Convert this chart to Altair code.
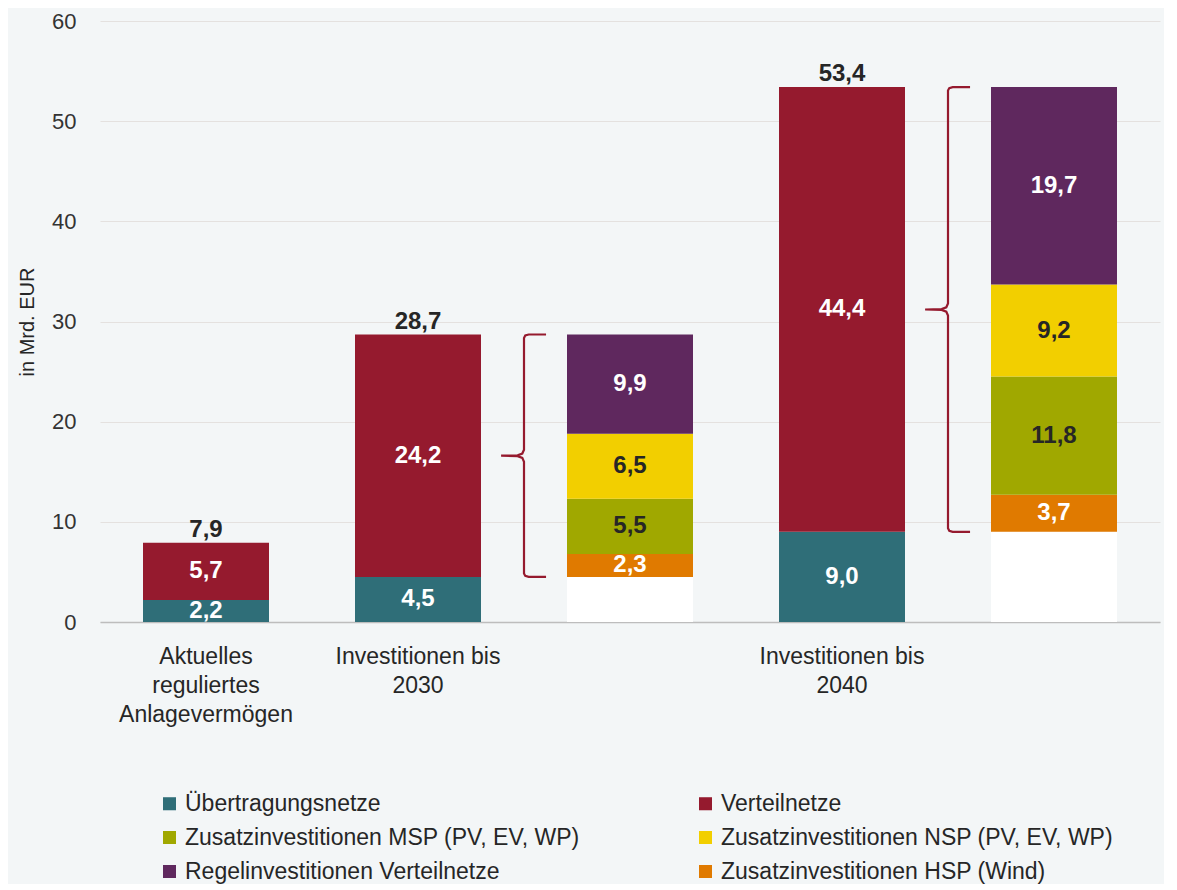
import altair as alt
import pandas as pd

# ---------------- data ----------------
cat_keys = ["akt", "inv2030", "det2030", "inv2040", "det2040"]
cat_labels = [
    ["Aktuelles", "reguliertes", "Anlagevermögen"],
    ["Investitionen bis", "2030"],
    [""],
    ["Investitionen bis", "2040"],
    [""],
]

s_ue = "Übertragungsnetze"
s_vn = "Verteilnetze"
s_msp = "Zusatzinvestitionen MSP (PV, EV, WP)"
s_nsp = "Zusatzinvestitionen NSP (PV, EV, WP)"
s_regel = "Regelinvestitionen Verteilnetze"
s_hsp = "Zusatzinvestitionen HSP (Wind)"
s_base = "Basis"

basis = [None, None, 4.5, None, 9.0]
uebertragung = [2.2, 4.5, None, 9.0, None]
verteilnetze = [5.7, 24.2, None, 44.4, None]
hsp = [None, None, 2.3, None, 3.7]
msp = [None, None, 5.5, None, 11.8]
nsp = [None, None, 6.5, None, 9.2]
regel = [None, None, 9.9, None, 19.7]
totals = [7.9, 28.7, None, 53.4, None]

y_ticks = [0, 10, 20, 30, 40, 50, 60]

legend_order = [s_ue, s_vn, s_msp, s_nsp, s_regel, s_hsp]
colors = {
    s_ue: "#2f6e78",
    s_vn: "#951a2e",
    s_msp: "#a0a800",
    s_nsp: "#f2cf00",
    s_regel: "#5f285e",
    s_hsp: "#e07a00",
    s_base: "#ffffff",
}
text_colors = {
    s_ue: "#ffffff",
    s_vn: "#ffffff",
    s_msp: "#262626",
    s_nsp: "#262626",
    s_regel: "#ffffff",
    s_hsp: "#ffffff",
}

stack_order = [
    (s_base, basis),
    (s_ue, uebertragung),
    (s_vn, verteilnetze),
    (s_hsp, hsp),
    (s_msp, msp),
    (s_nsp, nsp),
    (s_regel, regel),
]


def fmt(v):
    return f"{v:.1f}".replace(".", ",")


rows = []
for ci, cat in enumerate(cat_keys):
    cum = 0.0
    for name, vals in stack_order:
        v = vals[ci]
        if v is None:
            continue
        rows.append(
            dict(
                cat=cat,
                series=name,
                y0=cum,
                y1=cum + v,
                mid=cum + v / 2,
                label=fmt(v) if name != s_base else "",
                tcol=text_colors.get(name, "#ffffff"),
            )
        )
        cum += v
df = pd.DataFrame(rows)
df_lab = df[df["series"] != s_base]

df_tot = pd.DataFrame(
    [dict(cat=c, total=t, label=fmt(t)) for c, t in zip(cat_keys, totals) if t is not None]
)

# braces: span from base to top of each detail bar, drawn on the slot boundary
brace_shape = [
    ("b", 0.104, 0.0), ("b", 0.022, 0.0), ("b", 0.006, 0.1), ("b", 0.0, 0.35),
    ("m", 0.0, -0.6), ("m", -0.008, -0.22), ("m", -0.03, -0.04), ("m", -0.108, 0.0),
    ("m", -0.03, 0.04), ("m", -0.008, 0.22), ("m", 0.0, 0.6),
    ("t", 0.0, -0.35), ("t", 0.006, -0.1), ("t", 0.022, 0.0), ("t", 0.104, 0.0),
]
brows = []
for ci, cat in enumerate(cat_keys):
    if basis[ci] is None:
        continue
    b = basis[ci]
    t = b + hsp[ci] + msp[ci] + nsp[ci] + regel[ci]
    m = (b + t) / 2
    anchors = {"b": b, "m": m, "t": t}
    for i, (a, dx, dy) in enumerate(brace_shape):
        brows.append(dict(brace=cat, i=i, x=ci + dx, y=anchors[a] + dy))
df_brace = pd.DataFrame(brows)

# ---------------- chart ----------------
FONT = "Liberation Sans"
W, H = 1060, 601
Y_TITLE = "in Mrd. EUR"

label_expr = "".join(
    f"datum.value == '{k}' ? [{', '.join(repr(s) for s in lab)}] : " for k, lab in zip(cat_keys, cat_labels)
) + "''"

x_band = alt.X(
    "cat:N",
    sort=cat_keys,
    scale=alt.Scale(domain=cat_keys, paddingInner=0.406, paddingOuter=0.203),
    axis=alt.Axis(
        title=None,
        labelAngle=0,
        labelExpr=label_expr,
        labelFont=FONT,
        labelFontSize=23,
        labelColor="#262626",
        labelLineHeight=29,
        labelPadding=23,
        labelBaseline="top",
        ticks=False,
        tickSize=0,
        domain=True,
        domainColor="#bdbdbd",
        domainWidth=1.5,
        grid=False,
    ),
)

y_scale = alt.Scale(domain=[0, 60], nice=False)
y_axis = alt.Axis(
    values=y_ticks,
    grid=True,
    gridColor="#e4e1df",
    gridWidth=1.2,
    domain=False,
    ticks=False,
    tickSize=0,
    labelFont=FONT,
    labelFontSize=22,
    labelColor="#333333",
    labelPadding=24,
    titleFont=FONT,
    titleFontSize=20,
    titleFontWeight="normal",
    titleColor="#262626",
    titlePadding=14,
)

bars = alt.Chart(df).mark_bar(size=126).encode(
    x=x_band,
    y=alt.Y("y0:Q", scale=y_scale, axis=y_axis, title=Y_TITLE),
    y2="y1:Q",
    color=alt.Color(
        "series:N",
        scale=alt.Scale(domain=legend_order + [s_base], range=[colors[s] for s in legend_order + [s_base]]),
        legend=alt.Legend(
            title=None,
            orient="none",
            direction="horizontal",
            legendX=58,
            legendY=771,
            columns=2,
            columnPadding=114,
            rowPadding=10,
            symbolType="square",
            symbolSize=170,
            symbolStrokeWidth=0,
            labelFont=FONT,
            labelFontSize=23,
            labelColor="#262626",
            labelLimit=0,
            padding=0,
            values=legend_order,
        ),
    ),
)

seg_labels = alt.Chart(df_lab).mark_text(
    font=FONT, fontSize=24, fontWeight="bold", baseline="middle", align="center"
).encode(
    x=x_band,
    y=alt.Y("mid:Q", scale=y_scale, title=Y_TITLE),
    text="label:N",
    color=alt.Color("tcol:N", scale=None),
)

tot_labels = alt.Chart(df_tot).mark_text(
    font=FONT, fontSize=24, fontWeight="bold", baseline="alphabetic", align="center", dy=-6, color="#262626"
).encode(
    x=x_band,
    y=alt.Y("total:Q", scale=y_scale, title=Y_TITLE),
    text="label:N",
)

band_layer = alt.layer(bars, seg_labels, tot_labels)

braces = alt.Chart(df_brace).mark_line(color="#951a2e", strokeWidth=2.2).encode(
    x=alt.X("x:Q", scale=alt.Scale(domain=[0, len(cat_keys)], nice=False, zero=False), axis=None),
    y=alt.Y("y:Q", scale=y_scale, title=Y_TITLE),
    detail="brace:N",
    order="i:Q",
)

chart = (
    alt.layer(band_layer, braces)
    .resolve_scale(x="independent")
    .properties(
        width=W,
        height=H,
        background="#f3f6f7",
        padding={"left": 9, "top": 2, "right": 4, "bottom": 0},
    )
    .configure_view(stroke=None)
)

chart.save("out.html", embed_options={"renderer": "svg", "actions": False})
